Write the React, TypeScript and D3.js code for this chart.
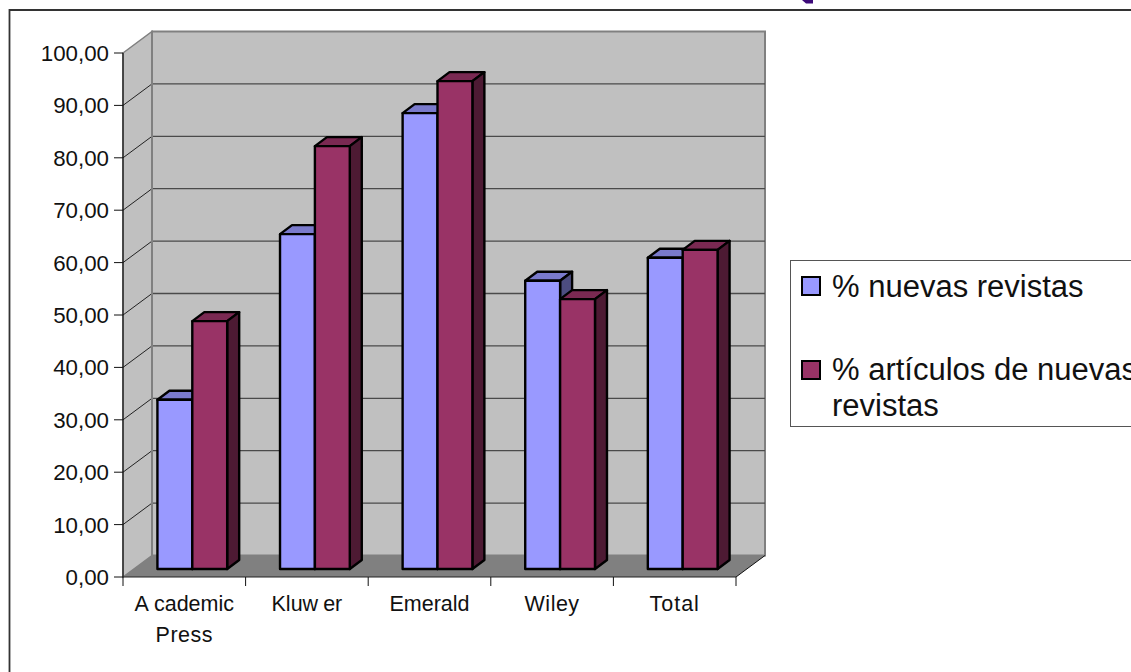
import React from "react";
import * as d3 from "d3";

const categories = ["Academic Press", "Kluwer", "Emerald", "Wiley", "Total"];
const categoryLines = [["Academic", "Press"], ["Kluwer"], ["Emerald"], ["Wiley"], ["Total"]];
const categoryGaps: Record<string, string> = { Academic: "0 5", Kluwer: "0 0 0 0 5" };
const categorySpacing: Record<string, number> = { Total: 1, Wiley: 0.5, Press: 0.5, Academic: 0, Kluwer: 0, Emerald: 0 };
const nuevasRevistas = [32.3, 63.9, 87.0, 55.0, 59.4];
const articulosNuevas = [47.3, 80.7, 93.1, 51.5, 60.9];
const seriesNames = ["% nuevas revistas", "% artículos de nuevas revistas"];
const yTicks = [0, 10, 20, 30, 40, 50, 60, 70, 80, 90, 100];
const FONT = "'Liberation Sans', Arial, sans-serif";

const faces = [
  { front: "#9999ff", top: "#7a7acc", side: "#4d4d80" },
  { front: "#993366", top: "#7a2952", side: "#4d1a33" },
];

const frontLeft = 123, frontRight = 736, frontBottom = 577, frontTop = 53;
const depthX = 29, depthY = -21.5;
const barShiftX = 8, barShiftY = -8, barDepthX = 12, barDepthY = -9;

export default function App() {
  const y = d3.scaleLinear().domain([0, 100]).range([frontBottom, frontTop]);
  const x0 = d3.scaleBand<string>().domain(categories).range([frontLeft, frontRight]).paddingInner(0.431).paddingOuter(0.2155);
  const x1 = d3.scaleBand<string>().domain(seriesNames).range([0, x0.bandwidth()]);
  const edges = d3.scaleLinear().domain([0, categories.length]).range([frontLeft, frontRight]);
  const poly = (pts: [number, number][]) => pts.map((p) => p.join(",")).join(" ");
  const series = [nuevasRevistas, articulosNuevas];

  return (
    <svg width={1131} height={672} style={{ position: "absolute", left: 0, top: 0, background: "#fff" }} fontFamily={FONT}>
      <polygon points="802,0 813,0 813,3.5 806,3.5" fill="#3d0a7a" />
      <path d="M9.5,672 V10 H1131" fill="none" stroke="#333" strokeWidth={1.8} />

      {/* walls and floor */}
      <rect x={frontLeft + depthX} y={frontTop + depthY} width={frontRight - frontLeft} height={frontBottom - frontTop} fill="#c0c0c0" stroke="#808080" strokeWidth={2} />
      <polygon
        points={poly([[frontLeft, y(100)], [frontLeft + depthX, y(100) + depthY], [frontLeft + depthX, y(0) + depthY], [frontLeft, y(0)]])}
        fill="#c0c0c0" stroke="#808080" strokeWidth={1.5}
      />
      <polygon
        points={poly([[frontLeft, y(0)], [frontLeft + depthX, y(0) + depthY], [frontRight + depthX, y(0) + depthY], [frontRight, y(0)]])}
        fill="#808080"
      />
      {yTicks.slice(1, -1).map((t) => (
        <g key={t}>
          <line x1={frontLeft + depthX} x2={frontRight + depthX} y1={y(t) + depthY} y2={y(t) + depthY} stroke="#4a4a4a" strokeWidth={1.3} />
          <line x1={frontLeft} x2={frontLeft + depthX} y1={y(t)} y2={y(t) + depthY} stroke="#222" strokeWidth={1} />
        </g>
      ))}
      <line x1={frontLeft + depthX} x2={frontLeft + depthX} y1={y(100) + depthY} y2={y(0) + depthY} stroke="#808080" strokeWidth={2} />
      <line x1={frontRight} y1={y(0)} x2={frontRight + depthX} y2={y(0) + depthY} stroke="#111" strokeWidth={1} />

      {/* bars */}
      {categories.map((c, i) => (
        <g key={c}>
          {seriesNames.map((s, k) => {
            const left = x0(c)! + x1(s)! + barShiftX;
            const right = left + x1.bandwidth();
            const base = y(0) + barShiftY;
            const top = y(series[k][i]) + barShiftY;
            const st = { stroke: "#000", strokeWidth: 2.4, strokeLinejoin: "round" as const };
            return (
              <g key={s}>
                <polygon points={poly([[left, top], [left + barDepthX, top + barDepthY], [right + barDepthX, top + barDepthY], [right, top]])} fill={faces[k].top} {...st} />
                <polygon points={poly([[right, top], [right + barDepthX, top + barDepthY], [right + barDepthX, base + barDepthY], [right, base]])} fill={faces[k].side} {...st} />
                <rect x={left} y={top} width={x1.bandwidth()} height={base - top} fill={faces[k].front} {...st} />
              </g>
            );
          })}
        </g>
      ))}

      {/* axes */}
      <line x1={frontLeft} x2={frontLeft} y1={y(100)} y2={y(0)} stroke="#111" strokeWidth={1.2} />
      <line x1={frontLeft} x2={frontRight} y1={y(0)} y2={y(0)} stroke="#222" strokeWidth={1.2} />
      {yTicks.map((t) => (
        <g key={t}>
          <line x1={114} x2={frontLeft} y1={y(t)} y2={y(t)} stroke="#111" strokeWidth={1} />
          <text x={109} y={y(t)} dy="0.36em" textAnchor="end" fontSize={22.3} fill="#111">
            {d3.format(".2f")(t).replace(".", ",")}
          </text>
        </g>
      ))}
      {d3.range(categories.length + 1).map((i) => (
        <line key={i} x1={edges(i)} x2={edges(i)} y1={y(0)} y2={586} stroke="#111" strokeWidth={1} />
      ))}
      {categories.map((c, i) => (
        <text key={c} textAnchor="middle" fontSize={21.5} fill="#111">
          {categoryLines[i].map((line, j) => (
            <tspan key={line} x={x0(c)! + x0.bandwidth() / 2} y={611 + j * 31} dx={categoryGaps[line]} letterSpacing={categorySpacing[line]}>{line}</tspan>
          ))}
        </text>
      ))}

      {/* legend */}
      <rect x={790.5} y={260.5} width={345} height={166} fill="#fff" stroke="#555" strokeWidth={1} />
      <rect x={802} y={277} width={18} height={18} fill={faces[0].front} stroke="#000" strokeWidth={2} />
      <rect x={802} y={361} width={18} height={18} fill={faces[1].front} stroke="#000" strokeWidth={2} />
      <g fontSize={31} fill="#111">
        <text x={832} y={297}>{seriesNames[0]}</text>
        <text x={832} y={380}>% artículos de nuevas</text>
        <text x={832} y={416}>revistas</text>
      </g>
    </svg>
  );
}
